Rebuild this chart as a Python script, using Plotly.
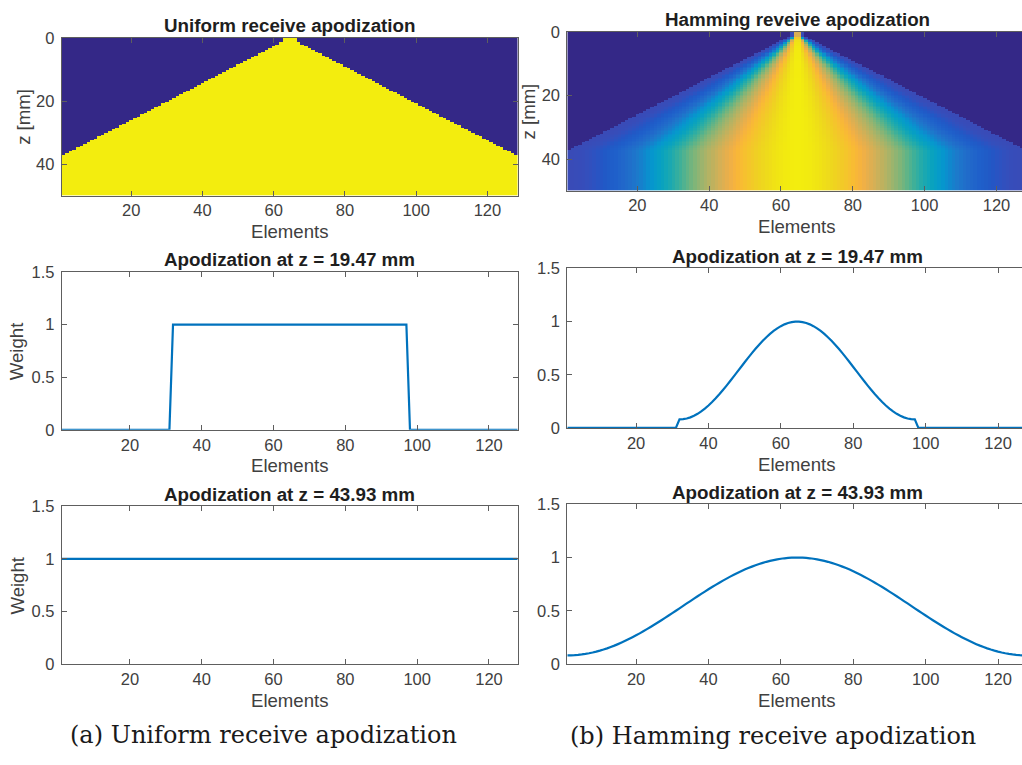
import numpy as np
import plotly.graph_objects as go

# ---- array / imaging parameters ----
N_ELEMENTS = 128
PITCH_MM = 0.3
F_NUMBER = 0.972
MIN_HALF_APERTURE_ELEMENTS = 1.5
DEPTH_MAX_MM = 49.75
DEPTH_STEP_MM = 0.25
SLICE_DEPTHS_MM = [19.47, 43.93]

# ---- axis ticks / text ----
ELEMENT_TICKS = [20, 40, 60, 80, 100, 120]
DEPTH_TICKS = [0, 20, 40]
WEIGHT_TICKS = [0, 0.5, 1, 1.5]
WEIGHT_TICK_LABELS = ["0", "0.5", "1", "1.5"]
MAP_TITLES = ["Uniform receive apodization", "Hamming reveive apodization"]
CAPTIONS = ["(a) Uniform receive apodization", "(b) Hamming receive apodization"]
WINDOWS = ["uniform", "hamming"]

# MATLAB parula colormap
PARULA = [
    (0.2081, 0.1663, 0.5292), (0.2116, 0.1898, 0.5777), (0.2123, 0.2138, 0.6270),
    (0.2081, 0.2386, 0.6771), (0.1959, 0.2645, 0.7279), (0.1707, 0.2919, 0.7792),
    (0.1253, 0.3242, 0.8303), (0.0591, 0.3598, 0.8683), (0.0117, 0.3875, 0.8820),
    (0.0060, 0.4086, 0.8828), (0.0165, 0.4266, 0.8786), (0.0329, 0.4430, 0.8720),
    (0.0498, 0.4586, 0.8641), (0.0629, 0.4737, 0.8554), (0.0723, 0.4887, 0.8467),
    (0.0779, 0.5040, 0.8384), (0.0793, 0.5200, 0.8312), (0.0749, 0.5375, 0.8263),
    (0.0641, 0.5570, 0.8240), (0.0488, 0.5772, 0.8228), (0.0343, 0.5966, 0.8199),
    (0.0265, 0.6137, 0.8135), (0.0239, 0.6287, 0.8038), (0.0231, 0.6418, 0.7913),
    (0.0228, 0.6535, 0.7768), (0.0267, 0.6642, 0.7607), (0.0384, 0.6743, 0.7436),
    (0.0590, 0.6838, 0.7254), (0.0843, 0.6928, 0.7062), (0.1133, 0.7015, 0.6859),
    (0.1453, 0.7098, 0.6646), (0.1801, 0.7177, 0.6424), (0.2178, 0.7250, 0.6193),
    (0.2586, 0.7317, 0.5954), (0.3022, 0.7376, 0.5712), (0.3482, 0.7424, 0.5473),
    (0.3953, 0.7459, 0.5244), (0.4420, 0.7481, 0.5033), (0.4871, 0.7491, 0.4840),
    (0.5300, 0.7491, 0.4661), (0.5709, 0.7485, 0.4494), (0.6099, 0.7473, 0.4337),
    (0.6473, 0.7456, 0.4188), (0.6834, 0.7435, 0.4044), (0.7184, 0.7411, 0.3905),
    (0.7525, 0.7384, 0.3768), (0.7858, 0.7356, 0.3633), (0.8185, 0.7327, 0.3498),
    (0.8507, 0.7299, 0.3360), (0.8824, 0.7274, 0.3217), (0.9139, 0.7258, 0.3063),
    (0.9450, 0.7261, 0.2886), (0.9739, 0.7314, 0.2666), (0.9938, 0.7455, 0.2403),
    (0.9990, 0.7653, 0.2164), (0.9955, 0.7861, 0.1967), (0.9880, 0.8066, 0.1794),
    (0.9789, 0.8271, 0.1633), (0.9697, 0.8481, 0.1475), (0.9626, 0.8705, 0.1309),
    (0.9589, 0.8949, 0.1132), (0.9598, 0.9218, 0.0948), (0.9661, 0.9514, 0.0755),
    (0.9763, 0.9831, 0.0538),
]

# printed tone: slightly muted low-blue range and a softer yellow
SLATE = np.array([0.30, 0.33, 0.64])
MUTE_T = [0.0, 0.03, 0.10, 0.20, 0.35, 1.0]
MUTE_W = [0.0, 0.35, 0.50, 0.30, 0.0, 0.0]
TONE = np.array([0.975, 0.945, 1.0])


def tone_color(i, rgb):
    t = i / (len(PARULA) - 1)
    w = np.interp(t, MUTE_T, MUTE_W)
    c = (1 - w) * np.array(rgb) + w * SLATE
    c = np.clip(c * TONE, 0, 1)
    return "rgb(%d,%d,%d)" % tuple(int(round(255 * v)) for v in c)


parula_scale = [[i / (len(PARULA) - 1), tone_color(i, rgb)] for i, rgb in enumerate(PARULA)]

elements = np.arange(1, N_ELEMENTS + 1)
elem_x_mm = (elements - (N_ELEMENTS + 1) / 2) * PITCH_MM
depths = np.arange(0, DEPTH_MAX_MM + 1e-9, DEPTH_STEP_MM)


def hamming(n):
    if n == 1:
        return np.ones(1)
    k = np.arange(n)
    return 0.54 - 0.46 * np.cos(2 * np.pi * k / (n - 1))


def apodization(z, window):
    half = max(z / (2 * F_NUMBER), MIN_HALF_APERTURE_ELEMENTS * PITCH_MM)
    active = np.abs(elem_x_mm) <= half + 1e-9
    w = np.zeros(N_ELEMENTS)
    if window == "uniform":
        w[active] = 1.0
    else:
        w[active] = hamming(int(active.sum()))
    return w


W, H = 1022, 765
FONT = "Liberation Sans, Arial, Helvetica, sans-serif"
AX_COLOR = "#5e5e5e"
TXT_COLOR = "#404040"
TITLE_COLOR = "#1e1e1e"
LINE_BLUE = "#0072BD"

# panel boxes in pixels: (left, right, top, bottom)
boxes = {
    (0, 0): (61.7, 517.7, 29.3, 191.0),
    (1, 0): (61.7, 517.7, 269.3, 431.0),
    (2, 0): (61.7, 517.7, 509.3, 671.0),
    (0, 1): (567.3, 1027.0, 23.3, 186.0),
    (1, 1): (567.3, 1027.0, 265.7, 429.0),
    (2, 1): (567.3, 1027.0, 507.3, 670.7),
}

fig = go.Figure()
annotations = []


def px_x(v):
    return v / W


def px_y(v):
    return 1 - v / H


idx = 0
for col in range(2):
    for row in range(3):
        idx += 1
        left, right, top, bottom = boxes[(row, col)]
        dom_right = min(right, W)
        frac = (dom_right - left) / (right - left)
        xa = "x" if idx == 1 else "x%d" % idx
        ya = "y" if idx == 1 else "y%d" % idx
        xkey = "xaxis" if idx == 1 else "xaxis%d" % idx
        ykey = "yaxis" if idx == 1 else "yaxis%d" % idx

        if row == 0:
            zmat = np.array([apodization(z, WINDOWS[col]) for z in depths])
            fig.add_trace(go.Heatmap(
                x=elements, y=depths, z=zmat, colorscale=parula_scale,
                zmin=0, zmax=1, showscale=False, zsmooth=False,
                xaxis=xa, yaxis=ya, hoverinfo="skip"))
            x0, x1 = 0.5, 128.5
            yrange = [DEPTH_MAX_MM + DEPTH_STEP_MM / 2, -DEPTH_STEP_MM / 2]
            ytickvals, yticktext = DEPTH_TICKS, [str(t) for t in DEPTH_TICKS]
            title = MAP_TITLES[col]
            ylabel = "z [mm]"
        else:
            zs = SLICE_DEPTHS_MM[row - 1]
            fig.add_trace(go.Scatter(
                x=elements, y=apodization(zs, WINDOWS[col]), mode="lines",
                line=dict(color=LINE_BLUE, width=2.2, simplify=False),
                xaxis=xa, yaxis=ya, hoverinfo="skip", showlegend=False))
            x0, x1 = 1, 128
            yrange = [0, 1.5]
            ytickvals, yticktext = WEIGHT_TICKS, WEIGHT_TICK_LABELS
            title = "Apodization at z = %.2f mm" % zs
            ylabel = "Weight" if col == 0 else None

        x1 = x0 + (x1 - x0) * frac
        fig.layout[xkey] = dict(
            domain=[px_x(left), px_x(dom_right)], range=[x0, x1], anchor=ya,
            tickvals=ELEMENT_TICKS, ticks="inside", ticklen=5, tickcolor=AX_COLOR,
            showline=True, linecolor=AX_COLOR, linewidth=1, mirror="allticks",
            showgrid=False, zeroline=False,
            tickfont=dict(family=FONT, size=16.5, color=TXT_COLOR),
            ticklabelstandoff=0,
        )
        fig.layout[ykey] = dict(
            domain=[px_y(bottom), px_y(top)], range=yrange, anchor=xa,
            tickvals=ytickvals, ticktext=yticktext, ticks="inside", ticklen=5,
            tickcolor=AX_COLOR, showline=True, linecolor=AX_COLOR, linewidth=1,
            mirror="allticks" if col == 0 else False,
            showgrid=False, zeroline=False,
            tickfont=dict(family=FONT, size=16.5, color=TXT_COLOR),
            ticklabelstandoff=3,
        )

        cx = (left + right) / 2
        annotations.append(dict(
            text="<b>%s</b>" % title, x=px_x(cx), y=px_y(top - 12.5),
            xref="paper", yref="paper", xanchor="center", yanchor="middle",
            showarrow=False, font=dict(family=FONT, size=18.8, color=TITLE_COLOR)))
        annotations.append(dict(
            text="Elements", x=px_x(cx), y=px_y(bottom + 37),
            xref="paper", yref="paper", xanchor="center", yanchor="middle",
            showarrow=False, font=dict(family=FONT, size=18.6, color=TXT_COLOR)))
        if ylabel:
            lx = (23.3 if row == 0 else 17.3) if col == 0 else 528.3
            annotations.append(dict(
                text=ylabel, x=px_x(lx), y=px_y((top + bottom) / 2),
                xref="paper", yref="paper", xanchor="center", yanchor="middle",
                textangle=-90, showarrow=False,
                font=dict(family=FONT, size=18.6, color=TXT_COLOR)))

for cx, cy, text in [(263.3, 743.5, CAPTIONS[0]), (773.0, 745.0, CAPTIONS[1])]:
    annotations.append(dict(
        text=text, x=px_x(cx), y=px_y(cy), xref="paper", yref="paper",
        xanchor="center", yanchor="middle", showarrow=False,
        font=dict(family="DejaVu Serif, Liberation Serif, serif", size=24,
                  color="#1a1a1a")))

fig.update_layout(
    width=W, height=H, margin=dict(l=0, r=0, t=0, b=0),
    paper_bgcolor="white", plot_bgcolor="white",
    annotations=annotations, showlegend=False,
)

fig.write_html("out.html")
